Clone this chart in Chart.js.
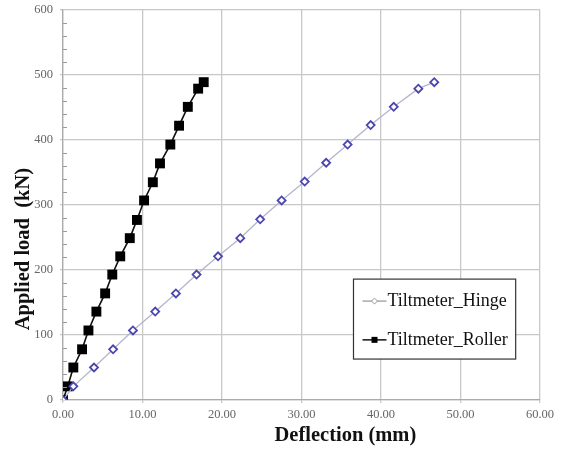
<!DOCTYPE html>
<html><head><meta charset="utf-8">
<script src="https://cdn.jsdelivr.net/npm/chart.js@4/dist/chart.umd.min.js"></script>
<style>html,body{margin:0;padding:0;background:#fff}#wrap{width:562px;height:450px;position:relative}</style>
</head><body><div id="wrap"><canvas id="c" width="562" height="450"></canvas></div>
<script>
const seriesNames = ['Tiltmeter_Hinge', 'Tiltmeter_Roller'];
const xTitle = 'Deflection (mm)';
const yTitle = 'Applied load  (kN)';
const hingeDeflection = [0, 1.3, 3.9, 6.3, 8.8, 11.6, 14.2, 16.8, 19.5, 22.3, 24.8, 27.5, 30.4, 33.1, 35.8, 38.7, 41.6, 44.7, 46.7];
const hingeLoad = [0, 21, 50, 78, 107, 136, 164, 193, 221, 249, 278, 307, 336, 365, 393, 423, 451, 479, 489];
const rollerDeflection = [0, 0.6, 1.3, 2.4, 3.2, 4.2, 5.3, 6.2, 7.2, 8.4, 9.3, 10.2, 11.3, 12.2, 13.5, 14.6, 15.7, 17.0, 17.7];
const rollerLoad = [0, 21, 50, 78, 107, 136, 164, 193, 221, 249, 277, 307, 335, 364, 393, 422, 451, 479, 489];
const xTicks = [0, 10, 20, 30, 40, 50, 60];
const yTicks = [0, 100, 200, 300, 400, 500, 600];
const yMinorStep = 20;

const pts = (xs, ys) => xs.map((x, i) => ({x: x, y: ys[i]}));
const serif = "'Liberation Serif', 'Times New Roman', serif";

const minorTicks = {
  id: 'minorTicks',
  afterDatasetsDraw(chart) {
    const y = chart.scales.y, ctx = chart.ctx, a = chart.chartArea;
    ctx.save();
    ctx.strokeStyle = '#999'; ctx.lineWidth = 1;
    for (let v = y.min; v <= y.max; v += yMinorStep) {
      if (v % 100 === 0) continue;
      const py = Math.round(y.getPixelForValue(v)) + 0.5;
      ctx.beginPath(); ctx.moveTo(a.left, py); ctx.lineTo(a.left + 4, py); ctx.stroke();
    }
    ctx.restore();
  }
};

const axisTitles = {
  id: 'axisTitles',
  afterDraw(chart) {
    const ctx = chart.ctx, a = chart.chartArea;
    const w = a.right - a.left, h = a.bottom - a.top;
    ctx.save();
    ctx.fillStyle = '#111';
    ctx.font = "bold 20.5px " + serif;
    ctx.textAlign = 'center'; ctx.textBaseline = 'middle';
    ctx.fillText(xTitle, a.left + w * 0.592, a.bottom + 36);
    ctx.translate(a.left - 39, a.top + h * 0.613);
    ctx.rotate(-Math.PI / 2);
    ctx.fillText(yTitle, 0, 0);
    ctx.restore();
  }
};

const boxLegend = {
  id: 'boxLegend',
  afterDraw(chart) {
    const ctx = chart.ctx, a = chart.chartArea;
    const w = a.right - a.left, h = a.bottom - a.top;
    const bx = a.left + w * 0.609, by = a.top + h * 0.69, bw = w * 0.34, bh = h * 0.205;
    ctx.save();
    ctx.fillStyle = '#fff';
    ctx.fillRect(bx, by, bw, bh);
    ctx.strokeStyle = '#333'; ctx.lineWidth = 1.2;
    ctx.strokeRect(bx, by, bw, bh);
    ctx.font = "18px " + serif;
    ctx.textBaseline = 'middle';
    const rows = [by + bh * 0.275, by + bh * 0.76];
    chart.data.datasets.forEach((ds, i) => {
      const ry = rows[i], lx = bx + 9, lx2 = bx + 33;
      ctx.strokeStyle = i === 0 ? '#aaa' : '#111'; ctx.lineWidth = 1.5;
      ctx.beginPath(); ctx.moveTo(lx, ry); ctx.lineTo(lx2, ry); ctx.stroke();
      const cx = (lx + lx2) / 2;
      if (i === 0) {
        ctx.fillStyle = '#fff'; ctx.strokeStyle = '#999'; ctx.lineWidth = 1;
        ctx.beginPath(); ctx.moveTo(cx, ry - 3); ctx.lineTo(cx + 3, ry); ctx.lineTo(cx, ry + 3); ctx.lineTo(cx - 3, ry); ctx.closePath();
        ctx.fill(); ctx.stroke();
      } else {
        ctx.fillStyle = '#000'; ctx.fillRect(cx - 3, ry - 3, 6, 6);
      }
      ctx.fillStyle = '#111';
      ctx.fillText(ds.label, lx2 + 1, ry);
    });
    ctx.restore();
  }
};

new Chart(document.getElementById('c'), {
  type: 'scatter',
  data: {
    datasets: [
      {
        label: seriesNames[0],
        data: pts(hingeDeflection, hingeLoad),
        showLine: true,
        borderColor: '#b4b4cc',
        borderWidth: 1.3,
        pointStyle: 'rectRot',
        pointRadius: 4,
        pointBorderWidth: 1.8,
        pointBorderColor: '#4b45b0',
        pointBackgroundColor: '#fff'
      },
      {
        label: seriesNames[1],
        data: pts(rollerDeflection, rollerLoad),
        showLine: true,
        borderColor: '#111',
        borderWidth: 1.6,
        pointStyle: 'rect',
        pointRadius: 7,
        pointBorderWidth: 0,
        pointBackgroundColor: '#000',
        pointBorderColor: '#000'
      }
    ]
  },
  options: {
    responsive: false,
    animation: false,
    layout: { padding: { left: 0, right: 22, top: 10, bottom: 0 } },
    plugins: { legend: { display: false }, tooltip: { enabled: false } },
    scales: {
      x: {
        type: 'linear', min: 0, max: 60,
        afterBuildTicks: s => { s.ticks = xTicks.map(v => ({value: v})); },
        afterFit: s => { s.height = 50; },
        ticks: { callback: v => v.toFixed(2), color: '#666', font: { family: serif, size: 12.5 }, padding: 4, maxRotation: 0 },
        grid: { color: '#c8c8c8', lineWidth: 1.3, tickLength: 3 },
        border: { color: '#aaa', width: 1.3 }
      },
      y: {
        type: 'linear', min: 0, max: 600,
        afterBuildTicks: s => { s.ticks = yTicks.map(v => ({value: v})); },
        afterFit: s => { s.width = 63; s.paddingTop = 0; s.paddingBottom = 0; },
        ticks: { color: '#666', font: { family: serif, size: 12.5 }, padding: 7 },
        grid: { color: '#c8c8c8', lineWidth: 1.3, tickLength: 3 },
        border: { color: '#aaa', width: 1.3 }
      }
    }
  },
  plugins: [minorTicks, axisTitles, boxLegend]
});
</script></body></html>
